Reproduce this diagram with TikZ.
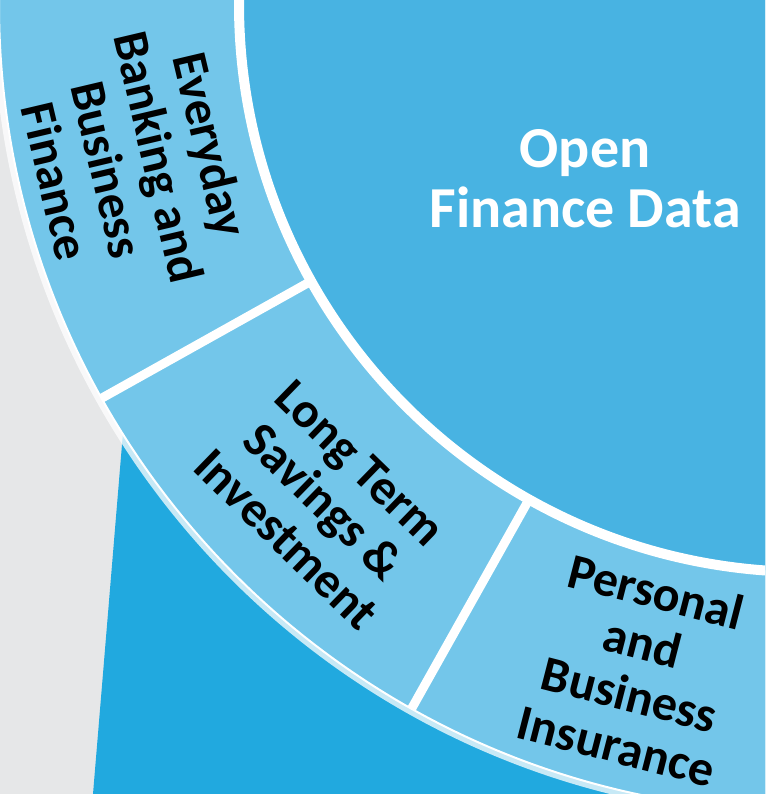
\documentclass[tikz,border=0pt]{standalone}
\usepackage{fontspec}
\setmainfont{Carlito}
\usepackage{tikz}

\begin{document}
\begin{tikzpicture}[x=1pt,y=1pt]

	\definecolor{bggrey}{RGB}{230,231,232}
	\definecolor{deepblue}{RGB}{33,169,223}
	\definecolor{ringblue}{RGB}{115,198,234}
	\definecolor{coreblue}{RGB}{72,179,226}

	\tikzstyle{divider} = [draw=white,line width=9pt]
	\tikzset{segment/.style = {font=\bfseries\fontsize{50}{53}\selectfont,align=center,text=black,inner sep=0pt}}

	\useasboundingbox (0,0) rectangle (765,-794);
	\clip (0,0) rectangle (765,-794);
	\fill[bggrey] (0,0) rectangle (765,-794);
	\fill[deepblue] (134,-300) -- (93,-794) -- (765,-794) -- (765,-300) -- cycle;

	% ring of sectors round the core
	\coordinate (o) at (807,-4);
	\draw[white,opacity=.75,line width=6pt] (o) circle (811pt);
	\fill[ringblue] (o) circle (808pt);
	\draw[white,line width=2pt] (o) circle (808pt);
	\foreach \a in {209.2,240.7}
		\draw[divider] ([shift={(\a:560pt)}]o) -- ([shift={(\a:808pt)}]o);

	\fill[coreblue] (o) circle (568pt);
	\draw[white,line width=10pt] (o) circle (568pt);

	\node[font=\bfseries\fontsize{58}{60}\selectfont,align=center,text=white,inner sep=0pt] (core) at (585,-179) {Open\\Finance Data};

	\node[segment,rotate=283.3] (everyday) at ([shift={(193.3:692pt)}]o) {Everyday\\Banking and\\Business\\Finance};
	\node[segment,rotate=315.8] (longterm) at ([shift={(225.8:694pt)}]o) {Long Term\\Savings \&\\Investment};
	\node[segment,rotate=345.6] (personal) at ([shift={(255.6:686pt)}]o) {Personal\\and\\Business\\Insurance};

\end{tikzpicture}
\end{document}
